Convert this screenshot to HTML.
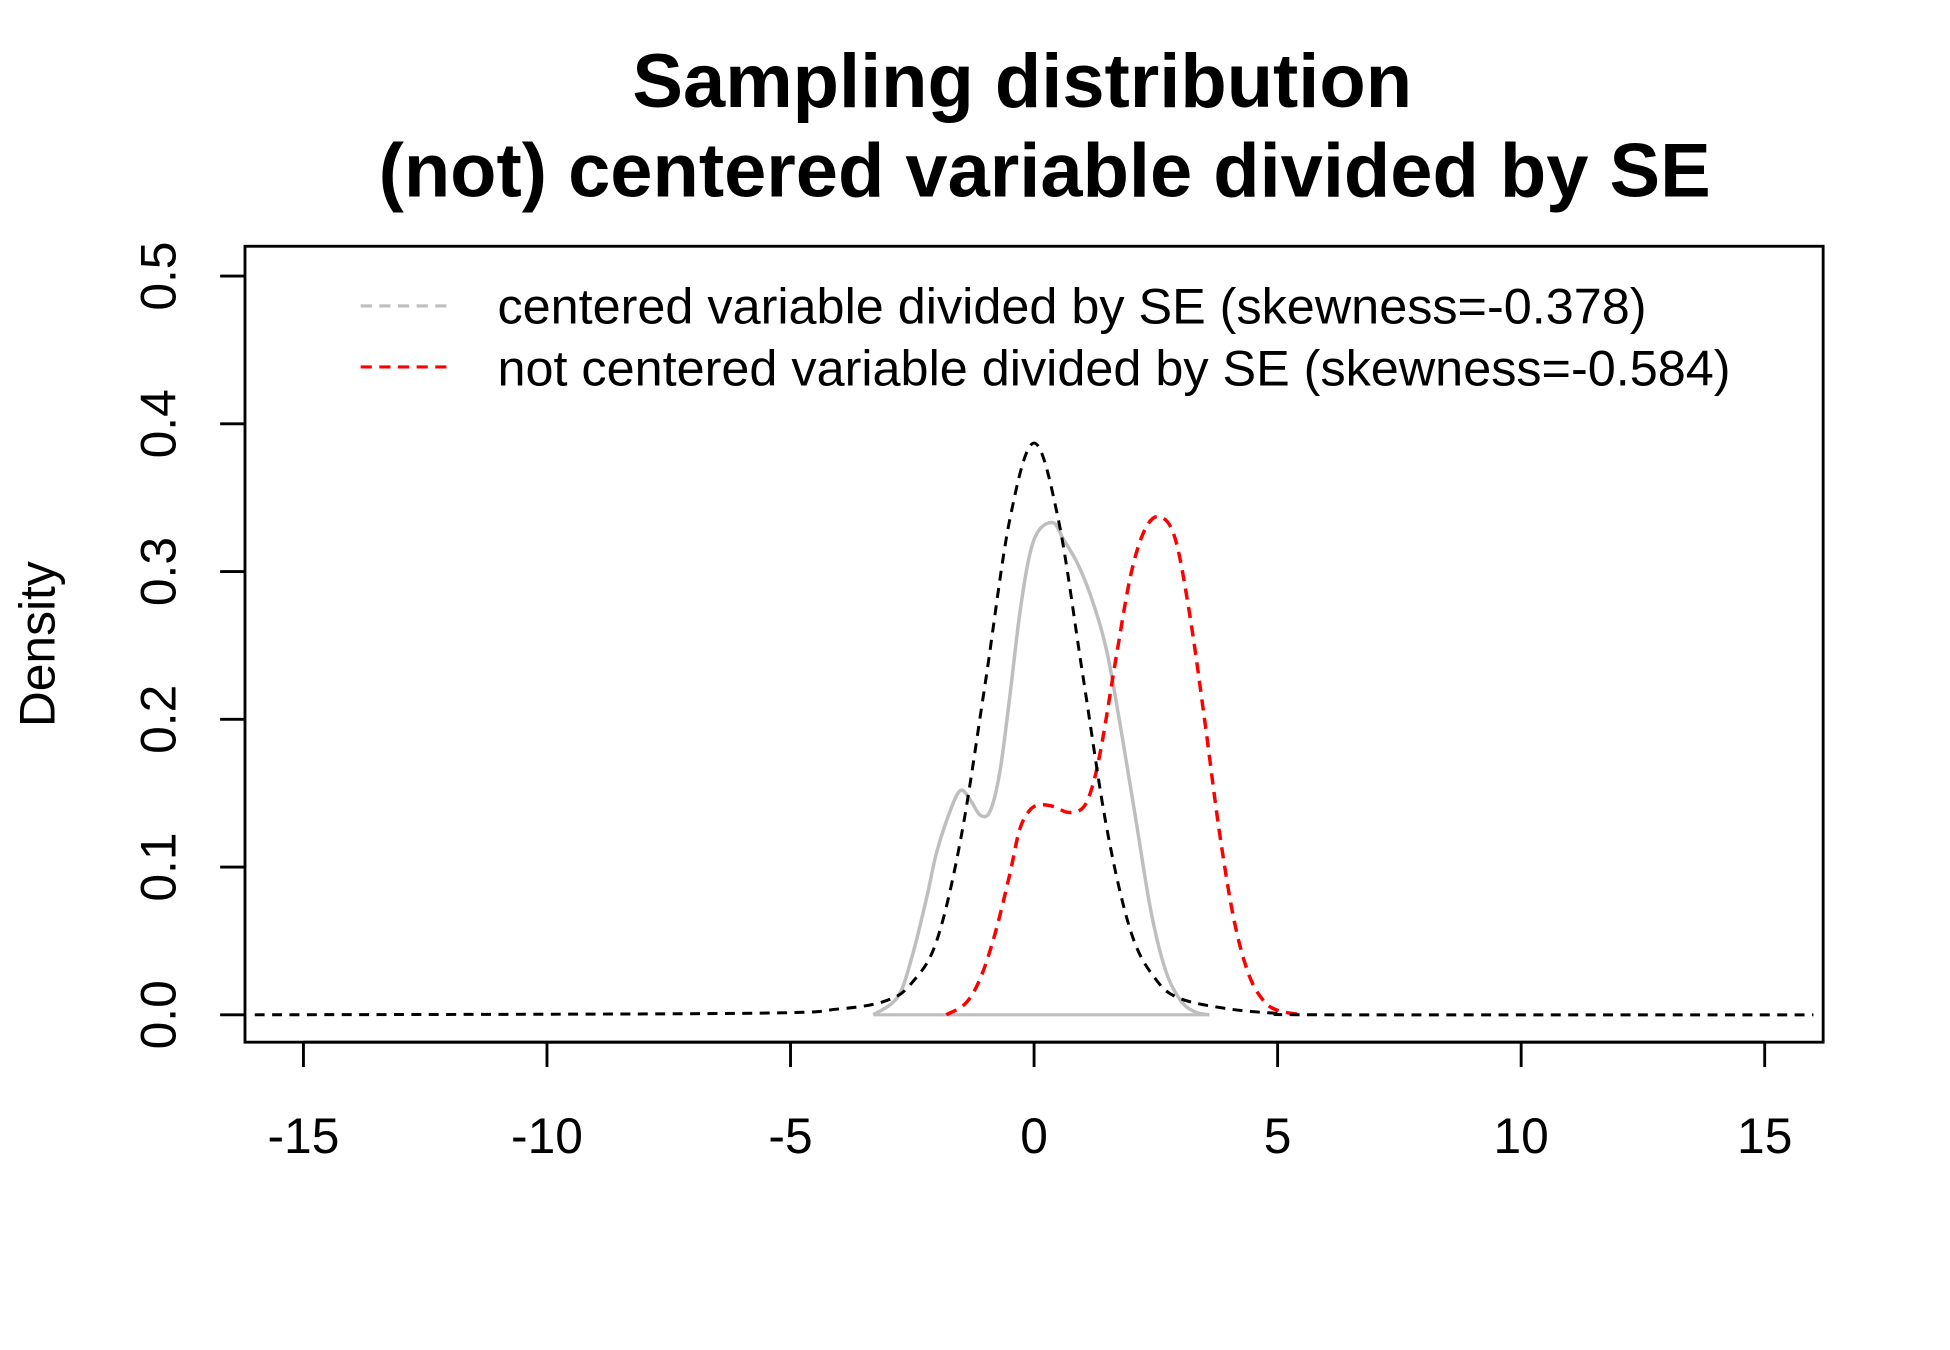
<!DOCTYPE html>
<html><head><meta charset="utf-8"><style>
html,body{margin:0;padding:0;background:#fff;}
svg{display:block;font-family:"Liberation Sans",sans-serif;}
</style></head><body>
<svg id="chart" width="1950" height="1350" viewBox="0 0 1568 1085.5" xmlns="http://www.w3.org/2000/svg">
<text x="822" y="86" text-anchor="middle" font-weight="bold" font-size="61">Sampling distribution</text>
<text x="840" y="158" text-anchor="middle" font-weight="bold" font-size="61">(not) centered variable divided by SE</text>
<rect x="197" y="198" width="1269" height="640" fill="none" stroke="#000" stroke-width="2.3"/>
<text transform="translate(44,518) rotate(-90)" text-anchor="middle" font-size="40">Density</text>
<g id="axes"></g>
<g id="series"></g>
<g>
<line x1="290" y1="246" x2="360" y2="246" stroke="#bebebe" stroke-width="2.5" stroke-dasharray="9,6"/>
<text x="400" y="260" font-size="40.5">centered variable divided by SE (skewness=-0.378)</text>
<line x1="290" y1="295" x2="360" y2="295" stroke="#ff0000" stroke-width="2.5" stroke-dasharray="9,6"/>
<text x="400" y="310" font-size="40.5">not centered variable divided by SE (skewness=-0.584)</text>
</g>
</svg>
<script>
const xTicks = [-15,-10,-5,0,5,10,15];
const yTicks = [0,0.1,0.2,0.3,0.4,0.5];
const yTickLabels = ["0.0","0.1","0.2","0.3","0.4","0.5"];
const normalX = [-16,-6,-4,-3,-2.5,-2,-1.5,-1,-0.5,0,0.5,1,1.5,2,2.5,3,4,5,6,16];
const normalY = [0,0.001,0.004,0.010,0.022,0.05,0.12,0.225,0.335,0.387,0.335,0.23,0.125,0.055,0.024,0.011,0.004,0.001,0,0];
const centeredX = [-3.3,-2.8,-2.5,-2.2,-2,-1.7,-1.5,-1.3,-1.1,-0.9,-0.7,-0.5,-0.3,-0.1,0.1,0.4,0.6,0.9,1.2,1.5,1.8,2.1,2.4,2.7,3,3.3,3.6];
const centeredY = [0,0.012,0.04,0.08,0.11,0.14,0.152,0.145,0.135,0.138,0.165,0.215,0.27,0.31,0.328,0.333,0.322,0.305,0.28,0.245,0.19,0.13,0.07,0.03,0.01,0.002,0];
const notCenteredX = [-1.8,-1.4,-1.1,-0.8,-0.5,-0.3,-0.1,0.1,0.4,0.7,1,1.2,1.4,1.7,2,2.3,2.6,2.9,3.2,3.5,3.8,4.1,4.4,4.7,5,5.5];
const notCenteredY = [0,0.008,0.025,0.055,0.095,0.125,0.138,0.142,0.141,0.137,0.14,0.155,0.185,0.245,0.3,0.33,0.337,0.322,0.27,0.2,0.125,0.065,0.028,0.01,0.003,0];

const ns = "http://www.w3.org/2000/svg";
const sx = v => 831.5 + v * (1420 - 245) / 30;
const sy = v => 816 - v * (816 - 222) / 0.5;
const axes = document.getElementById('axes');
const series = document.getElementById('series');
function mk(tag, attrs, parent){const e=document.createElementNS(ns,tag);for(const k in attrs)e.setAttribute(k,attrs[k]);parent.appendChild(e);return e;}

xTicks.forEach(t=>{
  const l = mk('line',{x1:sx(t),x2:sx(t),y1:838,y2:858,stroke:'#000','stroke-width':2.3},axes);
  
  
  const tx = mk('text',{x:sx(t),y:927,'text-anchor':'middle','font-size':40},axes);
  
  
  tx.textContent = String(t);
});
mk('line',{x1:sx(-15),x2:sx(15),y1:838,y2:838,stroke:'#000','stroke-width':2.3},axes);
yTicks.forEach((t,i)=>{
  const l = mk('line',{x1:177,x2:197,y1:sy(t),y2:sy(t),stroke:'#000','stroke-width':2.3},axes);
  
  
  const tx = mk('text',{transform:`translate(141,${sy(t)}) rotate(-90)`,'text-anchor':'middle','font-size':40},axes);
  
  
  tx.textContent = yTickLabels[i];
});

function smooth(xs, ys){
  const p = xs.map((x,i)=>[sx(x),sy(ys[i])]);
  let d = `M${p[0][0]},${p[0][1]}`;
  for(let i=0;i<p.length-1;i++){
    const p0=p[Math.max(0,i-1)],p1=p[i],p2=p[i+1],p3=p[Math.min(p.length-1,i+2)];
    const c1=[p1[0]+(p2[0]-p0[0])/6,p1[1]+(p2[1]-p0[1])/6];
    const c2=[p2[0]-(p3[0]-p1[0])/6,p2[1]-(p3[1]-p1[1])/6];
    d += ` C${c1[0]},${c1[1]} ${c2[0]},${c2[1]} ${p2[0]},${p2[1]}`;
  }
  return d;
}
const base = mk('line',{x1:sx(centeredX[0]),x2:sx(centeredX[centeredX.length-1]),y1:sy(0),y2:sy(0),stroke:'#bebebe','stroke-width':2.5},series);


const c = mk('path',{d:smooth(centeredX,centeredY),fill:'none',stroke:'#bebebe','stroke-width':2.8},series);


const r = mk('path',{d:smooth(notCenteredX,notCenteredY),fill:'none',stroke:'#ff0000','stroke-width':2.8,'stroke-dasharray':'9,6'},series);


const n = mk('path',{d:smooth(normalX,normalY),fill:'none',stroke:'#000','stroke-width':2.4,'stroke-dasharray':'8,6'},series);


</script>
</body></html>
